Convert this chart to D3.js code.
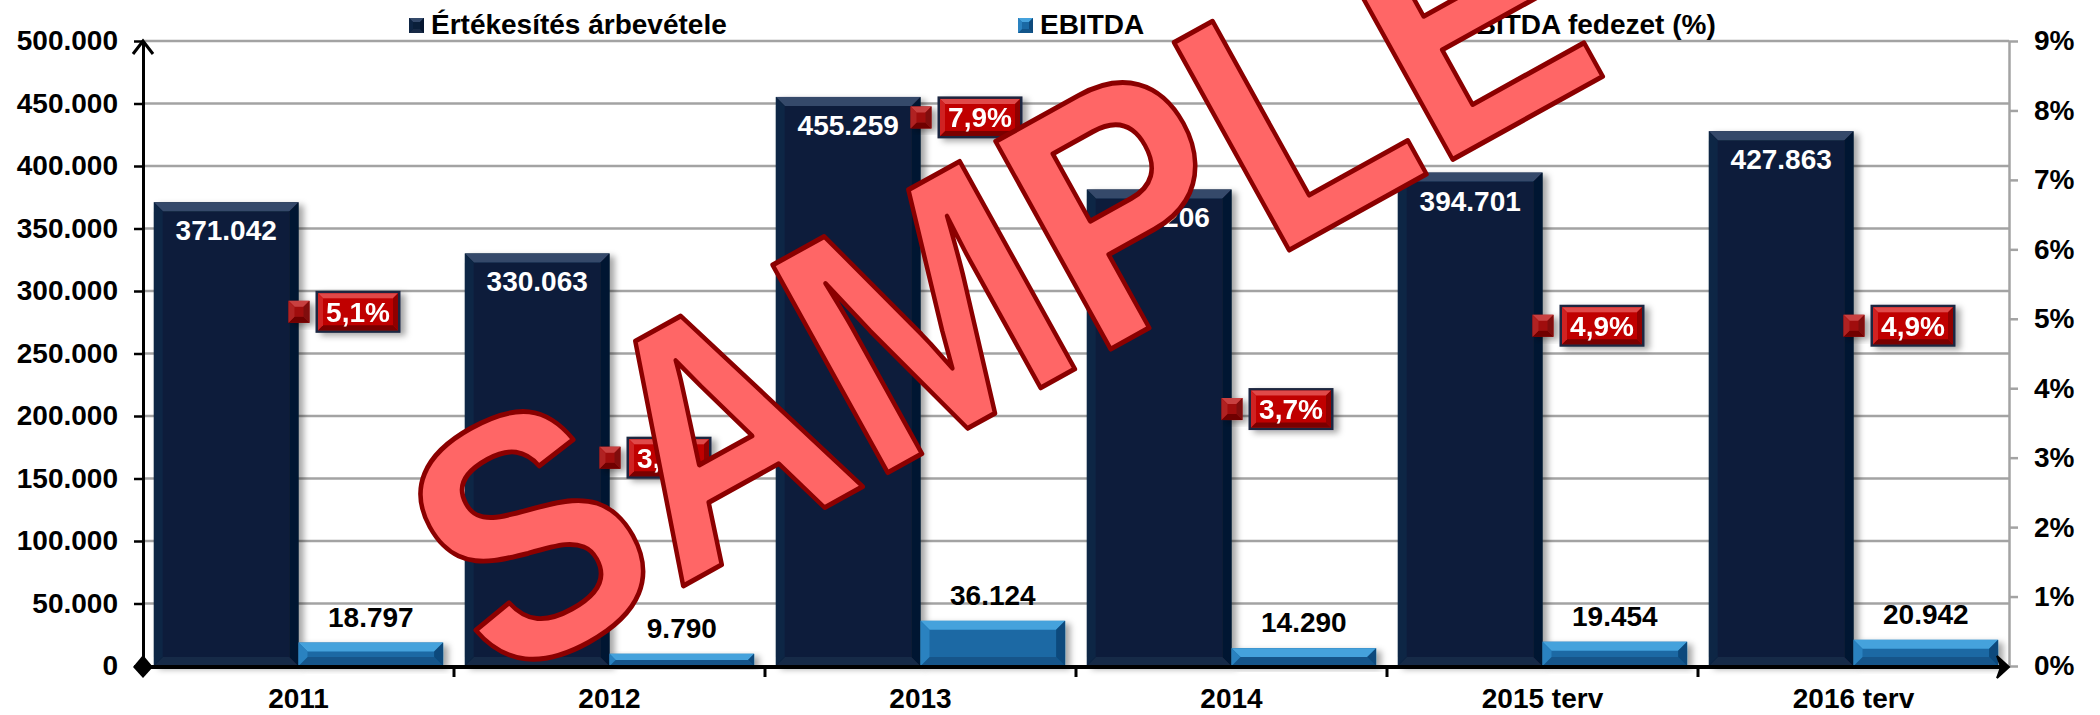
<!DOCTYPE html>
<html>
<head>
<meta charset="utf-8">
<script src="https://cdn.jsdelivr.net/npm/d3@7"></script>
<style>
  body { margin: 0; background: #fff; }
  svg { display: block; }
  text { font-family: "Liberation Sans", Arial, sans-serif; font-weight: bold; }
</style>
</head>
<body>
<svg id="chart" width="2100" height="715"></svg>
<script>
"use strict";
// data
var categories = ["2011", "2012", "2013", "2014", "2015 terv", "2016 terv"];
var revenue = [371042, 330063, 455259, 381206, 394701, 427863];
var ebitda = [18797, 9790, 36124, 14290, 19454, 20942];
var margin = [5.1, 3.0, 7.9, 3.7, 4.9, 4.9];
var leftTicks = [0, 50000, 100000, 150000, 200000, 250000, 300000, 350000, 400000, 450000, 500000];
var rightTicks = [0, 1, 2, 3, 4, 5, 6, 7, 8, 9];
var legendLabels = ["Értékesítés árbevétele", "EBITDA", "EBITDA fedezet (%)"];

var hu = d3.formatLocale({decimal: ",", thousands: ".", grouping: [3], currency: ["", " Ft"]});
var fmtNum = hu.format(",d");
var fmtPct = function (d) { return hu.format(".1f")(d) + "%"; };

var svg = d3.select("#chart");
var plotL = 143, plotR = 2009, plotT = 41, plotB = 666;

var x = d3.scaleBand().domain(categories).range([plotL, plotR]).padding(0);
var xs = d3.scaleBand().domain(["rev", "ebitda"]).range([0, x.bandwidth()]).paddingInner(0).paddingOuter(0.075);
var yL = d3.scaleLinear().domain([0, 500000]).range([plotB, plotT]);
var yR = d3.scaleLinear().domain([0, 9]).range([plotB, plotT]);

var defs = svg.append("defs");
var sh = defs.append("filter").attr("id", "shadow").attr("x", "-20%").attr("y", "-20%").attr("width", "150%").attr("height", "150%");
sh.append("feDropShadow").attr("dx", 5).attr("dy", 3).attr("stdDeviation", 3).attr("flood-color", "#000").attr("flood-opacity", 0.35);

// gridlines
svg.append("g").selectAll("line")
  .data(leftTicks.filter(function (d) { return d > 0; }))
  .join("line")
  .attr("x1", plotL).attr("x2", plotR)
  .attr("y1", function (d) { return yL(d); }).attr("y2", function (d) { return yL(d); })
  .attr("stroke", "#a3a3a3").attr("stroke-width", 2.5);

// beveled bar
function bevelBar(g, x0, y0, w, h, c, b) {
  var grp = g.append("g").attr("filter", "url(#shadow)");
  grp.append("rect").attr("x", x0).attr("y", y0).attr("width", w).attr("height", h).attr("fill", c.body);
  var bb = Math.min(b, h / 2);
  grp.append("polygon").attr("fill", c.top)
    .attr("points", [[x0, y0], [x0 + w, y0], [x0 + w - bb, y0 + bb], [x0 + bb, y0 + bb]].join(" "));
  grp.append("polygon").attr("fill", c.bottom)
    .attr("points", [[x0, y0 + h], [x0 + w, y0 + h], [x0 + w - bb, y0 + h - bb], [x0 + bb, y0 + h - bb]].join(" "));
  grp.append("polygon").attr("fill", c.left)
    .attr("points", [[x0, y0], [x0 + bb, y0 + bb], [x0 + bb, y0 + h - bb], [x0, y0 + h]].join(" "));
  grp.append("polygon").attr("fill", c.right)
    .attr("points", [[x0 + w, y0], [x0 + w - bb, y0 + bb], [x0 + w - bb, y0 + h - bb], [x0 + w, y0 + h]].join(" "));
  return grp;
}
var navy = {body: "#0a1f3a", top: "#34496a", bottom: "#182a46", left: "#0e2544", right: "#061630"};
var blue = {body: "#1a69a4", top: "#45a2dc", bottom: "#12558a", left: "#2a82c0", right: "#0f4a7c"};
var darkred = {body: "#a01010", top: "#c84040", bottom: "#700000", left: "#b02020", right: "#800808"};
var red = {body: "#c00000", top: "#e04848", bottom: "#7a0000", left: "#d02020", right: "#900000"};

var bars = svg.append("g");
categories.forEach(function (c, i) {
  var xr = x(c) + xs("rev"), xe = x(c) + xs("ebitda"), w = xs.bandwidth();
  bevelBar(bars, xr, yL(revenue[i]), w, plotB - yL(revenue[i]), navy, 9);
  bevelBar(bars, xe, yL(ebitda[i]), w, plotB - yL(ebitda[i]), blue, 9);
});

// left axis
var axL = svg.append("g").attr("transform", "translate(" + plotL + ",0)")
  .call(d3.axisLeft(yL).tickValues(leftTicks).tickFormat(fmtNum).tickSize(9).tickSizeOuter(0).tickPadding(16));
axL.select(".domain").attr("stroke", "#000").attr("stroke-width", 3);
axL.selectAll(".tick line").attr("stroke", "#000").attr("stroke-width", 2.5);
axL.selectAll(".tick text").attr("font-size", 28).attr("fill", "#000").attr("font-family", null);
svg.append("path").attr("d", "M" + (plotL - 10) + "," + (plotT + 13) + " L" + plotL + "," + plotT + " L" + (plotL + 10) + "," + (plotT + 13))
  .attr("fill", "none").attr("stroke", "#000").attr("stroke-width", 3);

// right axis
var axR = svg.append("g").attr("transform", "translate(" + plotR + ",0)")
  .call(d3.axisRight(yR).tickValues(rightTicks).tickFormat(function (d) { return d + "%"; }).tickSize(9).tickSizeOuter(0).tickPadding(16));
axR.select(".domain").attr("stroke", "#a3a3a3").attr("stroke-width", 2.5);
axR.selectAll(".tick line").attr("stroke", "#a3a3a3").attr("stroke-width", 2.5);
axR.selectAll(".tick text").attr("font-size", 28).attr("fill", "#000").attr("font-family", null);

// bottom axis
var axB = svg.append("g").attr("transform", "translate(0," + (plotB + 1) + ")")
  .call(d3.axisBottom(x).tickSize(0).tickPadding(21));
axB.select(".domain").attr("stroke", "#000").attr("stroke-width", 4).attr("d", "M" + plotL + ",0H" + (plotR - 8));
axB.selectAll(".tick text").attr("font-size", 28).attr("fill", "#000").attr("font-family", null);
axB.selectAll("line.sep").data(categories.slice(1)).join("line").attr("class", "sep")
  .attr("x1", function (d) { return x(d); }).attr("x2", function (d) { return x(d); })
  .attr("y1", 0).attr("y2", 10).attr("stroke", "#000").attr("stroke-width", 3);
svg.append("path").attr("d", "M" + (plotR - 12) + "," + (plotB - 10) + " L" + plotR + "," + (plotB + 1) + " L" + (plotR - 12) + "," + (plotB + 12) + " L" + (plotR - 8) + "," + (plotB + 1) + "Z")
  .attr("fill", "#000").attr("stroke", "#000").attr("stroke-width", 2);
svg.append("path").attr("d", "M" + plotL + "," + (plotB - 11) + " L" + (plotL + 10) + "," + (plotB + 1) + " L" + plotL + "," + (plotB + 12) + " L" + (plotL - 10) + "," + (plotB + 1) + "Z")
  .attr("fill", "#000");

// value labels
var lab = svg.append("g");
categories.forEach(function (c, i) {
  var w = xs.bandwidth();
  lab.append("text").attr("x", x(c) + xs("rev") + w / 2).attr("y", yL(revenue[i]) + 38)
    .attr("text-anchor", "middle").attr("font-size", 28).attr("fill", "#fff").text(fmtNum(revenue[i]));
  lab.append("text").attr("x", x(c) + xs("ebitda") + w / 2).attr("y", yL(ebitda[i]) - 16)
    .attr("text-anchor", "middle").attr("font-size", 28).attr("fill", "#000").text(fmtNum(ebitda[i]));
});

// margin markers and boxes
var mk = svg.append("g");
categories.forEach(function (c, i) {
  var cx = x(c) + x.bandwidth() / 2, cy = yR(margin[i]);
  bevelBar(mk, cx - 10, cy - 11, 21, 22, darkred, 6);
  var bx = cx + 17, bw = 85, bh = 42;
  var g = mk.append("g").attr("filter", "url(#shadow)");
  g.append("rect").attr("x", bx).attr("y", cy - bh / 2).attr("width", bw).attr("height", bh)
    .attr("fill", "#1b2740");
  bevelBar(g, bx + 2.5, cy - bh / 2 + 2.5, bw - 5, bh - 5, red, 5).attr("filter", null);
  g.append("text").attr("x", bx + bw / 2).attr("y", cy + 10).attr("text-anchor", "middle")
    .attr("font-size", 28).attr("fill", "#fff").text(fmtPct(margin[i]));
});

// legend
var legX = [409, 1018, 1435];
var legC = [navy, blue, darkred];
var lg = svg.append("g");
legendLabels.forEach(function (t, i) {
  bevelBar(lg, legX[i], 18, 15, 15, legC[i], 4).attr("filter", null);
  lg.append("text").attr("x", legX[i] + 22).attr("y", 34).attr("font-size", 28).attr("fill", "#000").text(t);
});

// watermark
svg.append("g").attr("transform", "translate(996,272) rotate(-29)")
  .append("text").attr("x", 0).attr("y", 123).attr("text-anchor", "middle")
  .attr("font-size", 345).attr("textLength", 1275).attr("lengthAdjust", "spacingAndGlyphs")
  .attr("fill", "#ff6666").attr("stroke", "#8b0000").attr("stroke-width", 5).attr("stroke-linejoin", "round")
  .text("SAMPLE");
</script>
</body>
</html>
